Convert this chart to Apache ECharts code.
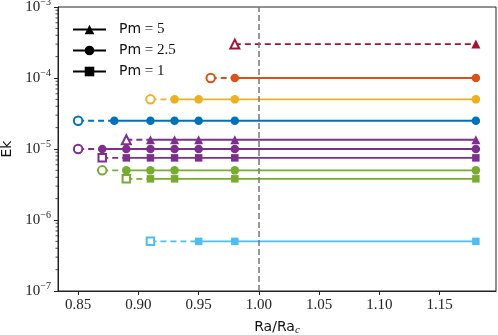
<!DOCTYPE html>
<html>
<head>
<meta charset="utf-8">
<script src="https://cdn.jsdelivr.net/npm/echarts@6/dist/echarts.min.js"></script>
<style>
  html, body { margin: 0; padding: 0; background: #fff; }
  #chart { width: 498px; height: 335px; }
</style>
</head>
<body>
<div id="chart"></div>
<script>
// Each run: first point is the open (unconverged) one, the rest are filled.
// Pm = 5 (triangles)
var raPm5Red = [0.98, 1.18];
var ekPm5Red = [3.0e-4, 3.0e-4];
var raPm5Purple = [0.89, 0.91, 0.93, 0.95, 0.98, 1.18];
var ekPm5Purple = [1.35e-5, 1.35e-5, 1.35e-5, 1.35e-5, 1.35e-5, 1.35e-5];

// Pm = 2.5 (circles)
var raPm25Orange = [0.96, 0.98, 1.18];
var ekPm25Orange = [1.0e-4, 1.0e-4, 1.0e-4];
var raPm25Yellow = [0.91, 0.93, 0.95, 0.98, 1.18];
var ekPm25Yellow = [5.0e-5, 5.0e-5, 5.0e-5, 5.0e-5, 5.0e-5];
var raPm25Blue = [0.85, 0.88, 0.91, 0.93, 0.95, 0.98, 1.18];
var ekPm25Blue = [2.5e-5, 2.5e-5, 2.5e-5, 2.5e-5, 2.5e-5, 2.5e-5, 2.5e-5];
var raPm25Purple = [0.85, 0.87, 0.89, 0.91, 0.93, 0.95, 0.98, 1.18];
var ekPm25Purple = [1.0e-5, 1.0e-5, 1.0e-5, 1.0e-5, 1.0e-5, 1.0e-5, 1.0e-5, 1.0e-5];
var raPm25Green = [0.87, 0.89, 0.91, 0.93, 0.98, 1.18];
var ekPm25Green = [5.0e-6, 5.0e-6, 5.0e-6, 5.0e-6, 5.0e-6, 5.0e-6];

// Pm = 1 (squares)
var raPm1Purple = [0.87, 0.89, 0.91, 0.93, 0.95, 0.98, 1.18];
var ekPm1Purple = [7.5e-6, 7.5e-6, 7.5e-6, 7.5e-6, 7.5e-6, 7.5e-6, 7.5e-6];
var raPm1Green = [0.89, 0.91, 0.93, 0.98, 1.18];
var ekPm1Green = [3.8e-6, 3.8e-6, 3.8e-6, 3.8e-6, 3.8e-6];
var raPm1Cyan = [0.91, 0.95, 0.98, 1.18];
var ekPm1Cyan = [5.0e-7, 5.0e-7, 5.0e-7, 5.0e-7];

var xTicks = [0.85, 0.90, 0.95, 1.00, 1.05, 1.10, 1.15];
var raCritical = 1.0;
var legendNames = ['Pm = 5', 'Pm = 2.5', 'Pm = 1'];

var X_MIN = 0.8333, X_MAX = 1.1967;
var series = [];

function addRun(ra, ek, color, shape, size) {
  var emptyShape = 'empty' + shape[0].toUpperCase() + shape.slice(1);
  // dashed leg from the open marker to the first filled one
  series.push({
    type: 'line',
    data: [
      { value: [ra[0], ek[0]], symbol: emptyShape },
      { value: [ra[1], ek[1]], symbol: 'none' }
    ],
    symbolSize: size,
    showAllSymbol: true,
    lineStyle: { color: color, width: 1.8, type: [6, 4] },
    itemStyle: { color: color, borderColor: color, borderWidth: 1.3 },
    silent: true,
    z: 2
  });
  var filled = [];
  for (var i = 1; i < ra.length; i++) filled.push([ra[i], ek[i]]);
  series.push({
    type: 'line',
    data: filled,
    symbol: shape,
    symbolSize: size,
    showAllSymbol: true,
    lineStyle: { color: color, width: 1.8 },
    itemStyle: { color: color, borderWidth: 0 },
    silent: true,
    z: 3
  });
}

addRun(raPm5Red, ekPm5Red, '#A2142F', 'triangle', 9);
addRun(raPm25Orange, ekPm25Orange, '#D95319', 'circle', 8.5);
addRun(raPm25Yellow, ekPm25Yellow, '#EDB120', 'circle', 8.5);
addRun(raPm25Blue, ekPm25Blue, '#0072BD', 'circle', 8.5);
addRun(raPm1Cyan, ekPm1Cyan, '#4DBEEE', 'rect', 7.5);
addRun(raPm1Green, ekPm1Green, '#77AC30', 'rect', 7.5);
addRun(raPm25Green, ekPm25Green, '#77AC30', 'circle', 8.5);
addRun(raPm1Purple, ekPm1Purple, '#7E2F8E', 'rect', 7.5);
addRun(raPm25Purple, ekPm25Purple, '#7E2F8E', 'circle', 8.5);
addRun(raPm5Purple, ekPm5Purple, '#7E2F8E', 'triangle', 9);

// legend-only entries (black)
var legendShapes = ['triangle', 'circle', 'rect'];
legendNames.forEach(function (n, i) {
  series.push({
    type: 'line', name: n, data: [], symbol: legendShapes[i],
    itemStyle: { color: '#000' }, lineStyle: { color: '#000', width: 1.8 }
  });
});

// vertical marker at Ra = Ra_c
series[0].markLine = {
  silent: true,
  symbol: ['none', 'none'],
  label: { show: false },
  lineStyle: { color: '#777', width: 1.5, type: [6, 3] },
  data: [{ xAxis: raCritical }]
};

// log minor ticks on the y axis
var minorTicks = [];
for (var d = -7; d < -3; d++) {
  for (var m = 2; m <= 9; m++) minorTicks.push([X_MIN, m * Math.pow(10, d)]);
}
series.push({
  type: 'custom',
  silent: true,
  clip: false,
  data: minorTicks,
  renderItem: function (params, api) {
    var p = api.coord([api.value(0), api.value(1)]);
    return {
      type: 'line',
      shape: { x1: p[0] - 2.5, y1: p[1], x2: p[0], y2: p[1] },
      style: { stroke: '#222', lineWidth: 0.8 }
    };
  }
});

var chart = echarts.init(document.getElementById('chart'), null, { renderer: 'canvas' });
chart.setOption({
  animation: false,
  backgroundColor: '#fff',
  grid: {
    left: 58, right: 2, top: 7, bottom: 44,
    outerBoundsMode: 'none', containLabel: false,
    show: true, borderColor: '#222', borderWidth: 1
  },
  legend: {
    orient: 'vertical',
    left: 72,
    top: 22,
    padding: 0,
    itemWidth: 33,
    itemHeight: 12,
    itemGap: 6,
    selectedMode: false,
    data: legendNames,
    formatter: function (n) {
      return '{a|Pm}{b|' + n.slice(2) + '}';
    },
    textStyle: {
      rich: {
        a: { fontFamily: 'DejaVu Sans', fontSize: 14, lineHeight: 16, color: '#111', padding: [0, 0, 0, 8] },
        b: { fontFamily: 'Liberation Serif', fontSize: 15, lineHeight: 16, color: '#111' }
      }
    }
  },
  xAxis: {
    type: 'value',
    min: X_MIN,
    max: X_MAX,
    splitLine: { show: false },
    axisLine: { lineStyle: { color: '#222', width: 1 } },
    axisTick: { length: 4, customValues: xTicks, lineStyle: { color: '#222' } },
    axisLabel: {
      customValues: xTicks,
      formatter: function (v) { return v.toFixed(2); },
      fontFamily: 'Liberation Serif', fontSize: 15, color: '#222', margin: 7
    },
    name: '{a|Ra/Ra}{c|c}',
    nameLocation: 'middle',
    nameGap: 27,
    nameTextStyle: {
      rich: {
        a: { fontFamily: 'DejaVu Sans', fontSize: 14, color: '#111' },
        c: { fontFamily: 'Liberation Serif', fontStyle: 'italic', fontSize: 11, color: '#111', padding: [7, 0, 0, 0] }
      }
    }
  },
  yAxis: {
    type: 'log',
    logBase: 10,
    min: 1e-7,
    max: 1e-3,
    splitLine: { show: false },
    axisLine: { show: true, lineStyle: { color: '#222', width: 1 } },
    axisTick: { show: true, length: 4, lineStyle: { color: '#222' } },
    axisLabel: {
      margin: 7,
      formatter: function (v) {
        var e = Math.round(Math.log10(v));
        return '{b|10}{s|\u2212' + Math.abs(e) + '}';
      },
      rich: {
        b: { fontFamily: 'Liberation Serif', fontSize: 15, color: '#222' },
        s: { fontFamily: 'Liberation Serif', fontSize: 10, color: '#222', padding: [0, 0, 9, 0] }
      }
    },
    name: 'Ek',
    nameLocation: 'middle',
    nameGap: 44,
    nameRotate: 90,
    nameTextStyle: { fontFamily: 'DejaVu Sans', fontSize: 14, color: '#111' }
  },
  series: series
});
</script>
</body>
</html>
